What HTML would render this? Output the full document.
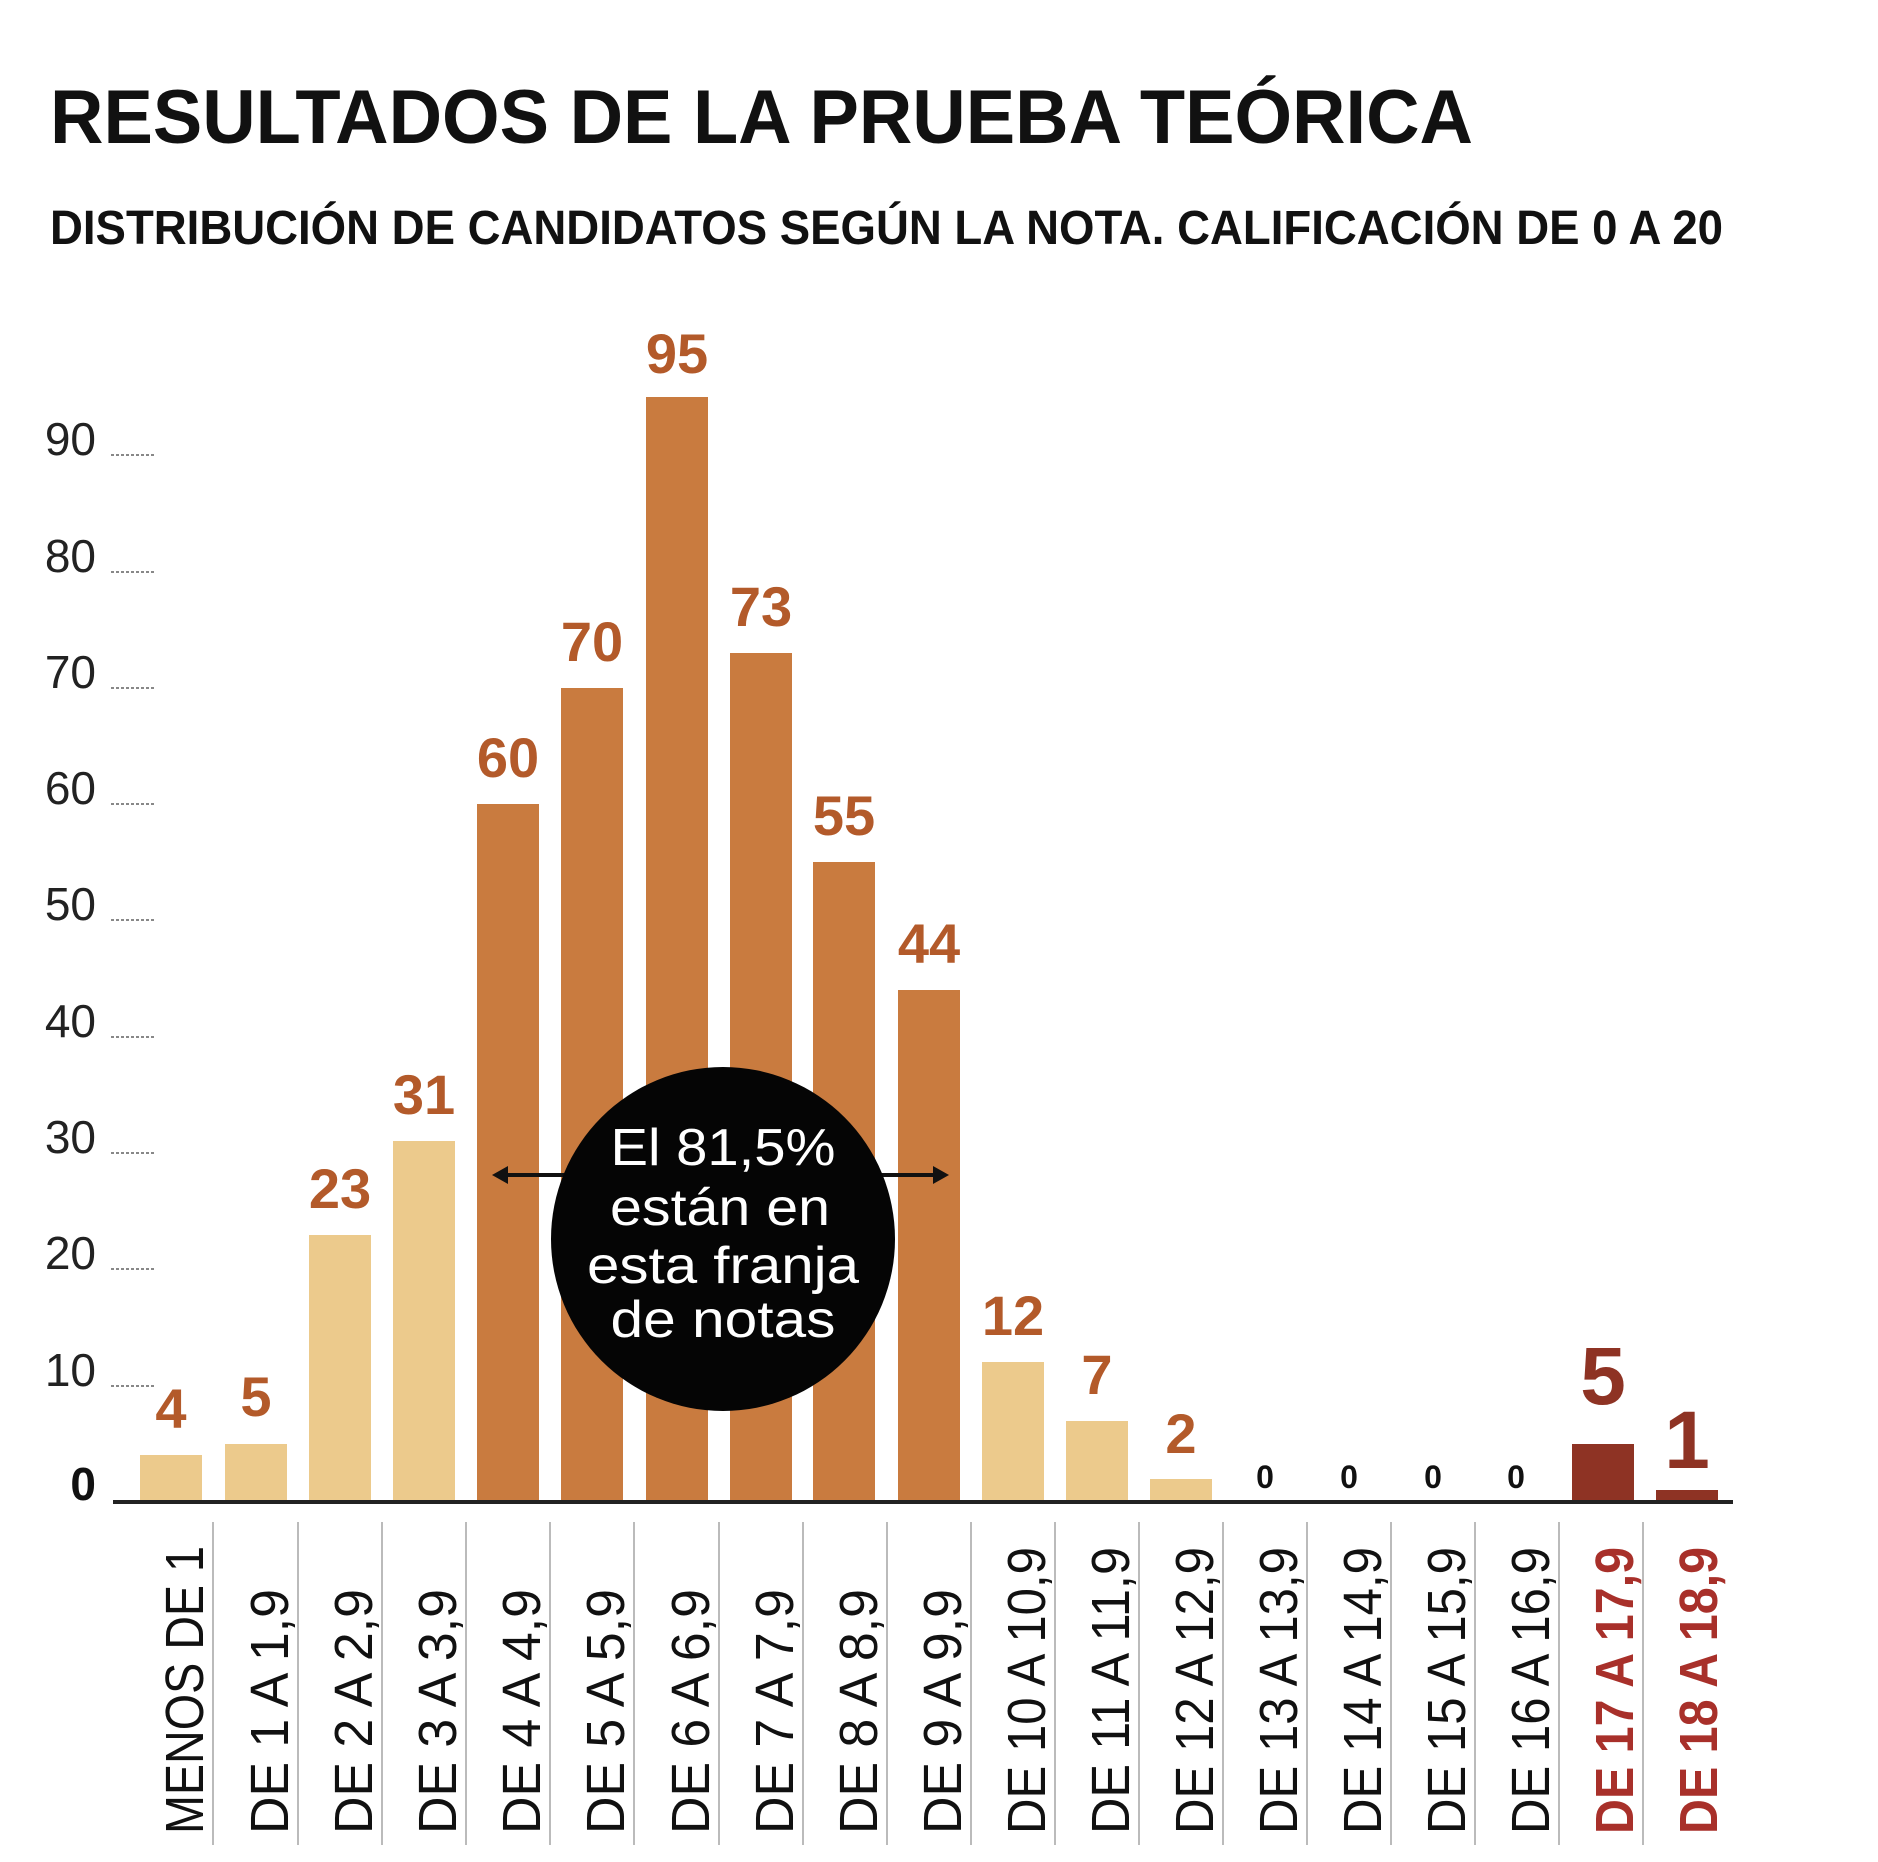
<!DOCTYPE html>
<html><head><meta charset="utf-8"><style>
html,body{margin:0;padding:0;background:#fff;}
svg{display:block;font-family:"Liberation Sans",Arial,sans-serif;}
</style></head><body>
<svg width="1878" height="1862" viewBox="0 0 1878 1862" xmlns="http://www.w3.org/2000/svg">
<rect width="1878" height="1862" fill="#fff"/>
<text x="50" y="143" font-size="76" font-weight="bold" fill="#111" textLength="1423" lengthAdjust="spacingAndGlyphs">RESULTADOS DE LA PRUEBA TEÓRICA</text>
<text x="50" y="244" font-size="48" font-weight="bold" fill="#111" textLength="1673" lengthAdjust="spacingAndGlyphs">DISTRIBUCIÓN DE CANDIDATOS SEGÚN LA NOTA. CALIFICACIÓN DE 0 A 20</text>

<g font-size="46" fill="#222" text-anchor="end">
<text x="96" y="455">90</text><text x="96" y="572">80</text><text x="96" y="688">70</text>
<text x="96" y="804">60</text><text x="96" y="920">50</text><text x="96" y="1037">40</text>
<text x="96" y="1153">30</text><text x="96" y="1269">20</text><text x="96" y="1386">10</text>
<text x="96" y="1500" font-weight="bold" fill="#111">0</text>
</g>
<g stroke="#888" stroke-width="2" stroke-dasharray="3,2">
<line x1="111" x2="156" y1="455" y2="455"/><line x1="111" x2="156" y1="572" y2="572"/>
<line x1="111" x2="156" y1="688" y2="688"/><line x1="111" x2="156" y1="804" y2="804"/>
<line x1="111" x2="156" y1="920" y2="920"/><line x1="111" x2="156" y1="1037" y2="1037"/>
<line x1="111" x2="156" y1="1153" y2="1153"/><line x1="111" x2="156" y1="1269" y2="1269"/>
<line x1="111" x2="156" y1="1386" y2="1386"/>
</g>

<g>
<rect x="140" y="1455" width="62" height="47" fill="#ecca8c"/>
<rect x="225" y="1444" width="62" height="58" fill="#ecca8c"/>
<rect x="309" y="1235" width="62" height="267" fill="#ecca8c"/>
<rect x="393" y="1141" width="62" height="361" fill="#ecca8c"/>
<rect x="477" y="804" width="62" height="698" fill="#c97b3f"/>
<rect x="561" y="688" width="62" height="814" fill="#c97b3f"/>
<rect x="646" y="397" width="62" height="1105" fill="#c97b3f"/>
<rect x="730" y="653" width="62" height="849" fill="#c97b3f"/>
<rect x="813" y="862" width="62" height="640" fill="#c97b3f"/>
<rect x="898" y="990" width="62" height="512" fill="#c97b3f"/>
<rect x="982" y="1362" width="62" height="140" fill="#ecca8c"/>
<rect x="1066" y="1421" width="62" height="81" fill="#ecca8c"/>
<rect x="1150" y="1479" width="62" height="23" fill="#ecca8c"/>
<rect x="1572" y="1444" width="62" height="58" fill="#8e3324"/>
<rect x="1656" y="1490" width="62" height="12" fill="#8e3324"/>
</g>
<line x1="113" x2="1733" y1="1502" y2="1502" stroke="#222" stroke-width="4"/>

<g font-size="56" font-weight="bold" fill="#b35a2a" text-anchor="middle">
<text x="171" y="1428">4</text><text x="256" y="1416">5</text>
<text x="340" y="1208">23</text><text x="424" y="1114">31</text>
<text x="508" y="777">60</text><text x="592" y="661">70</text>
<text x="677" y="373">95</text><text x="761" y="626">73</text>
<text x="844" y="835">55</text><text x="929" y="963">44</text>
<text x="1013" y="1335">12</text><text x="1097" y="1394">7</text>
<text x="1181" y="1453">2</text>
</g>
<g font-size="32" font-weight="bold" fill="#111" text-anchor="middle">
<text x="1265" y="1488">0</text><text x="1349" y="1488">0</text>
<text x="1433" y="1488">0</text><text x="1516" y="1488">0</text>
</g>
<g font-size="82" font-weight="bold" fill="#8e3324" text-anchor="middle">
<text x="1603" y="1404">5</text><text x="1687" y="1468">1</text>
</g>

<line x1="500" x2="941" y1="1175" y2="1175" stroke="#111" stroke-width="4"/>
<polygon points="492,1175 508,1166 508,1184" fill="#111"/>
<polygon points="949,1175 933,1166 933,1184" fill="#111"/>
<ellipse cx="723" cy="1239" rx="172" ry="172" fill="#050505"/>
<g font-size="52" fill="#fff" text-anchor="middle" font-weight="500">
<text x="723" y="1165" textLength="225" lengthAdjust="spacingAndGlyphs">El 81,5%</text>
<text x="720" y="1225" textLength="220" lengthAdjust="spacingAndGlyphs">están en</text>
<text x="723" y="1283" textLength="272" lengthAdjust="spacingAndGlyphs">esta franja</text>
<text x="723" y="1337" textLength="225" lengthAdjust="spacingAndGlyphs">de notas</text>
</g>

<g stroke="#bbb" stroke-width="2">
<line x1="213" x2="213" y1="1522" y2="1845"/><line x1="298" x2="298" y1="1522" y2="1845"/>
<line x1="382" x2="382" y1="1522" y2="1845"/><line x1="466" x2="466" y1="1522" y2="1845"/>
<line x1="550" x2="550" y1="1522" y2="1845"/><line x1="634" x2="634" y1="1522" y2="1845"/>
<line x1="719" x2="719" y1="1522" y2="1845"/><line x1="803" x2="803" y1="1522" y2="1845"/>
<line x1="887" x2="887" y1="1522" y2="1845"/><line x1="971" x2="971" y1="1522" y2="1845"/>
<line x1="1055" x2="1055" y1="1522" y2="1845"/><line x1="1139" x2="1139" y1="1522" y2="1845"/>
<line x1="1223" x2="1223" y1="1522" y2="1845"/><line x1="1307" x2="1307" y1="1522" y2="1845"/>
<line x1="1391" x2="1391" y1="1522" y2="1845"/><line x1="1475" x2="1475" y1="1522" y2="1845"/>
<line x1="1559" x2="1559" y1="1522" y2="1845"/><line x1="1643" x2="1643" y1="1522" y2="1845"/>
</g>

<g font-size="54" fill="#111">
<text transform="translate(203,1834) rotate(-90)" textLength="288" lengthAdjust="spacingAndGlyphs">MENOS DE 1</text>
<text transform="translate(288,1834) rotate(-90)" textLength="245" lengthAdjust="spacingAndGlyphs">DE 1 A 1,9</text>
<text transform="translate(372,1834) rotate(-90)" textLength="245" lengthAdjust="spacingAndGlyphs">DE 2 A 2,9</text>
<text transform="translate(456,1834) rotate(-90)" textLength="245" lengthAdjust="spacingAndGlyphs">DE 3 A 3,9</text>
<text transform="translate(540,1834) rotate(-90)" textLength="245" lengthAdjust="spacingAndGlyphs">DE 4 A 4,9</text>
<text transform="translate(624,1834) rotate(-90)" textLength="245" lengthAdjust="spacingAndGlyphs">DE 5 A 5,9</text>
<text transform="translate(709,1834) rotate(-90)" textLength="245" lengthAdjust="spacingAndGlyphs">DE 6 A 6,9</text>
<text transform="translate(793,1834) rotate(-90)" textLength="245" lengthAdjust="spacingAndGlyphs">DE 7 A 7,9</text>
<text transform="translate(877,1834) rotate(-90)" textLength="245" lengthAdjust="spacingAndGlyphs">DE 8 A 8,9</text>
<text transform="translate(961,1834) rotate(-90)" textLength="245" lengthAdjust="spacingAndGlyphs">DE 9 A 9,9</text>
<text transform="translate(1045,1834) rotate(-90)" textLength="287" lengthAdjust="spacingAndGlyphs">DE 10 A 10,9</text>
<text transform="translate(1129,1834) rotate(-90)" textLength="287" lengthAdjust="spacingAndGlyphs">DE 11 A 11,9</text>
<text transform="translate(1213,1834) rotate(-90)" textLength="287" lengthAdjust="spacingAndGlyphs">DE 12 A 12,9</text>
<text transform="translate(1297,1834) rotate(-90)" textLength="287" lengthAdjust="spacingAndGlyphs">DE 13 A 13,9</text>
<text transform="translate(1381,1834) rotate(-90)" textLength="287" lengthAdjust="spacingAndGlyphs">DE 14 A 14,9</text>
<text transform="translate(1465,1834) rotate(-90)" textLength="287" lengthAdjust="spacingAndGlyphs">DE 15 A 15,9</text>
<text transform="translate(1549,1834) rotate(-90)" textLength="287" lengthAdjust="spacingAndGlyphs">DE 16 A 16,9</text>
<text transform="translate(1633,1834) rotate(-90)" textLength="287" lengthAdjust="spacingAndGlyphs" fill="#a8302a" font-weight="bold">DE 17 A 17,9</text>
<text transform="translate(1717,1834) rotate(-90)" textLength="287" lengthAdjust="spacingAndGlyphs" fill="#a8302a" font-weight="bold">DE 18 A 18,9</text>
</g>
</svg>
</body></html>
